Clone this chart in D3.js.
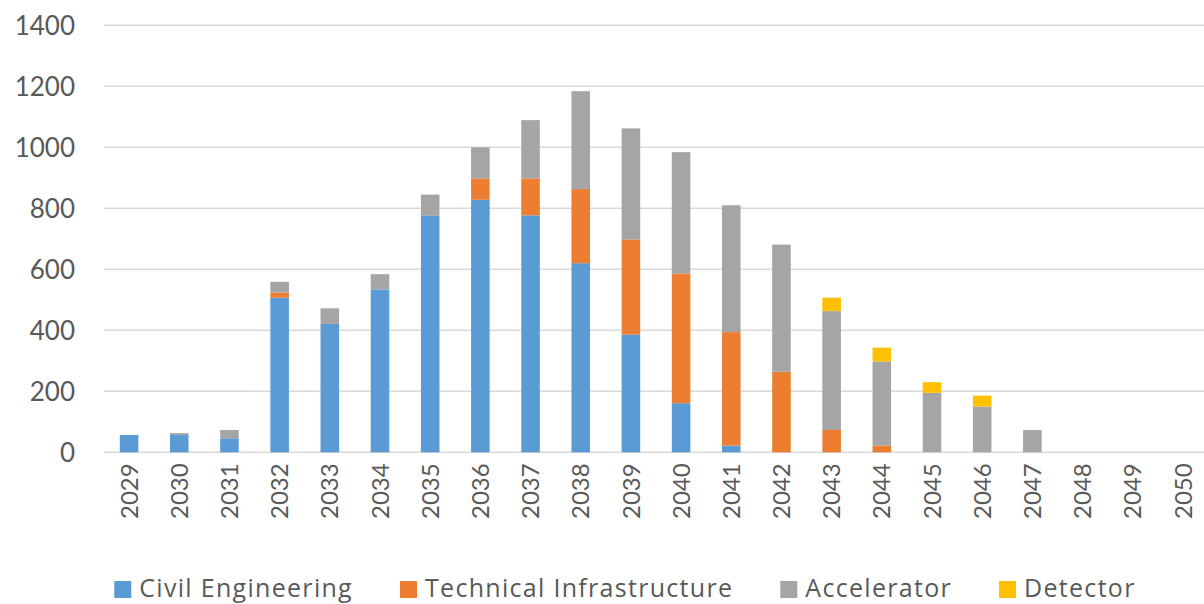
<!DOCTYPE html>
<html>
<head>
<meta charset="utf-8">
<script src="https://cdn.jsdelivr.net/npm/d3@7/dist/d3.min.js"></script>
<style>
  html, body { margin: 0; padding: 0; background: #ffffff; }
  svg { display: block; }
  text { font-family: Lato, "Open Sans", sans-serif; fill: #595959; }
</style>
</head>
<body>
<svg id="chart" width="1204" height="604"></svg>
<script>
const years = ["2029","2030","2031","2032","2033","2034","2035","2036","2037","2038","2039",
               "2040","2041","2042","2043","2044","2045","2046","2047","2048","2049","2050"];
const seriesNames = ["Civil Engineering", "Technical Infrastructure", "Accelerator", "Detector"];
const civilEngineering = [57, 57, 46, 507, 421, 534, 777, 828, 777, 620, 386, 161, 22, 0, 0, 0, 0, 0, 0, 0, 0, 0];
const technicalInfrastructure = [0, 0, 0, 17, 0, 0, 0, 70, 121, 243, 312, 425, 372, 264, 73, 22, 0, 0, 0, 0, 0, 0];
const accelerator = [0, 6, 27, 35, 51, 50, 68, 102, 191, 321, 364, 398, 416, 417, 390, 276, 195, 150, 73, 0, 0, 0];
const detector = [0, 0, 0, 0, 0, 0, 0, 0, 0, 0, 0, 0, 0, 0, 44, 45, 35, 36, 0, 0, 0, 0];
const yTicks = [0, 200, 400, 600, 800, 1000, 1200, 1400];
const colors = ["#5B9BD5", "#ED7D31", "#A5A5A5", "#FFC000"];

const rows = years.map((yr, i) => ({
  year: yr,
  "Civil Engineering": civilEngineering[i],
  "Technical Infrastructure": technicalInfrastructure[i],
  "Accelerator": accelerator[i],
  "Detector": detector[i]
}));

const svg = d3.select("#chart");
const plotLeft = 104, plotRight = 1208, plotTop = 25.3, plotBottom = 452.3;

const x = d3.scaleBand().domain(years).range([plotLeft, plotRight]).paddingInner(0.63).paddingOuter(0.315);
const y = d3.scaleLinear().domain([0, 1400]).range([plotBottom, plotTop]);
const color = d3.scaleOrdinal().domain(seriesNames).range(colors);

// gridlines
svg.append("g")
  .selectAll("line")
  .data(yTicks)
  .join("line")
  .attr("x1", plotLeft).attr("x2", 1204)
  .attr("y1", d => y(d)).attr("y2", d => y(d))
  .attr("stroke", "#D9D9D9").attr("stroke-width", 1.5);

// y axis labels
const yAxis = d3.axisLeft(y).tickValues(yTicks).tickSize(0).tickPadding(0).tickFormat(d3.format("d"));
const gy = svg.append("g").attr("transform", "translate(75,0)").call(yAxis);
gy.select(".domain").remove();
gy.selectAll("text").style("font-size", "26px").style("font-family", "Lato, sans-serif").attr("fill", "#595959").attr("dy", "0.34em");

// bars
const stack = d3.stack().keys(seriesNames);
const stacked = stack(rows);
svg.append("g")
  .selectAll("g")
  .data(stacked)
  .join("g")
  .attr("fill", d => color(d.key))
  .selectAll("rect")
  .data(d => d)
  .join("rect")
  .attr("x", d => x(d.data.year))
  .attr("width", x.bandwidth())
  .attr("y", d => y(d[1]))
  .attr("height", d => Math.max(0, y(d[0]) - y(d[1])));

// x axis labels
const xAxis = d3.axisBottom(x).tickSize(0).tickPadding(0);
const gx = svg.append("g").attr("transform", `translate(0,${plotBottom})`).call(xAxis);
gx.select(".domain").remove();
gx.selectAll("text")
  .style("font-size", "24px").style("font-family", "Lato, sans-serif").attr("fill", "#595959")
  .attr("text-anchor", "end")
  .attr("transform", "rotate(-90)")
  .attr("x", -11)
  .attr("y", 0)
  .attr("dy", "0.36em");

// legend
const legend = svg.append("g");
const items = legend.selectAll("g").data(seriesNames).join("g");
items.append("rect").attr("width", 17).attr("height", 17).attr("y", 581).attr("fill", d => color(d));
items.append("text").attr("x", 25).attr("y", 597)
  .style("font-size", "25px").style("font-family", "'Open Sans', sans-serif")
  .style("letter-spacing", "1.3px").text(d => d);
let cx = 0;
const positions = [];
items.each(function(d) {
  const w = d3.select(this).select("text").node().getComputedTextLength();
  positions.push(cx);
  cx += 25 + w + 47;
});
const totalW = cx - 47;
const startX = 625 - totalW / 2;
items.attr("transform", (d, i) => `translate(${startX + positions[i]},0)`);
</script>
</body>
</html>
